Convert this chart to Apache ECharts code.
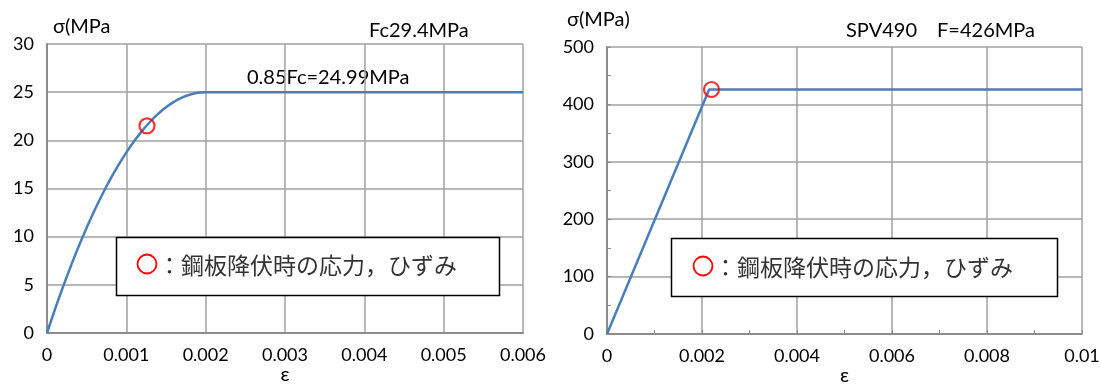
<!DOCTYPE html>
<html><head><meta charset="utf-8">
<script src="https://cdn.jsdelivr.net/npm/echarts@6/dist/echarts.min.js"></script>
<style>html,body{margin:0;padding:0;background:#fff}#c{width:1101px;height:385px}</style>
</head><body><div id="c"></div>
<script>
// Left chart: concrete Fc29.4MPa
const concreteStrain = [0,0.0001,0.0002,0.0003,0.0004,0.0005,0.0006,0.0007,0.0008,0.0009,0.001,0.0011,0.0012,0.0013,0.0014,0.0015,0.0016,0.0017,0.0018,0.0019,0.002,0.006];
const concreteStress = [0,2.44,4.75,6.93,9.00,10.93,12.74,14.43,15.99,17.43,18.74,19.93,20.99,21.93,22.74,23.43,23.99,24.43,24.74,24.93,24.99,24.99];
const concreteYieldPoint = [0.00126, 21.5];
// Right chart: steel SPV490
const steelStrain = [0, 0.00215, 0.01];
const steelStress = [0, 426, 426];
const steelYieldPoint = [0.0022, 426];
const leftTitle = 'Fc29.4MPa';
const leftNote = '0.85Fc=24.99MPa';
const rightTitle = 'SPV490\u3000F=426MPa';
const legendText = '\uff1a鋼板降伏時の応力，ひずみ';

const FONT = 'Lato, "Open Sans", sans-serif';
const JP = '"Noto Sans CJK JP", sans-serif';
const lineColor = '#4a7ebb';
const gridCol = '#a0a0a0';
const axisCol = '#8c8c8c';
const zip = (a,b)=>a.map((v,i)=>[v,b[i]]);

const chart = echarts.init(document.getElementById('c'));
const axisLabel = (fmt)=>({color:'#000', fontSize:18, fontFamily:FONT, margin:13, formatter:fmt});
const nameStyle = {fontSize:20, fontFamily:FONT, color:'#000', verticalAlign:'middle'};
chart.setOption({
  animation:false,
  grid:[
    {left:47, top:44, width:476, height:289, outerBoundsMode:'none', containLabel:false},
    {left:607, top:47, width:475, height:287, outerBoundsMode:'none', containLabel:false}
  ],
  xAxis:[
    {gridIndex:0, type:'value', min:0, max:0.006, interval:0.001,
     name:'ε', nameLocation:'middle', nameGap:42, nameMoveOverlap:false, nameTextStyle:nameStyle,
     axisLine:{lineStyle:{color:axisCol, width:2}}, axisTick:{show:false},
     axisLabel:axisLabel(v=>String(+v.toFixed(4))),
     splitLine:{show:true, lineStyle:{color:gridCol, width:1.5}}},
    {gridIndex:1, type:'value', min:0, max:0.01, interval:0.002,
     name:'ε', nameLocation:'middle', nameGap:42, nameMoveOverlap:false, nameTextStyle:nameStyle,
     axisLine:{lineStyle:{color:axisCol, width:2}}, axisTick:{show:true, inside:true, length:4, lineStyle:{color:axisCol}},
     minorTick:{show:true, splitNumber:2, length:4, lineStyle:{color:axisCol}},
     axisLabel:axisLabel(v=>String(+v.toFixed(4))),
     splitLine:{show:true, lineStyle:{color:gridCol, width:1.5}}}
  ],
  yAxis:[
    {gridIndex:0, type:'value', min:0, max:30, interval:5,
     axisLine:{show:true, lineStyle:{color:axisCol, width:2}}, axisTick:{show:false},
     axisLabel:axisLabel(v=>v),
     splitLine:{show:true, lineStyle:{color:gridCol, width:1.5}}},
    {gridIndex:1, type:'value', min:0, max:500, interval:100,
     axisLine:{show:true, lineStyle:{color:axisCol, width:2}}, axisTick:{show:true, inside:true, length:4, lineStyle:{color:axisCol}},
     minorTick:{show:true, splitNumber:2, length:4, lineStyle:{color:axisCol}},
     axisLabel:axisLabel(v=>v),
     splitLine:{show:true, lineStyle:{color:gridCol, width:1.5}}}
  ],
  series:[
    {type:'line', xAxisIndex:0, yAxisIndex:0, data:zip(concreteStrain, concreteStress), smooth:true,
     showSymbol:false, lineStyle:{color:lineColor, width:2.5}},
    {type:'scatter', xAxisIndex:0, yAxisIndex:0, data:[concreteYieldPoint], symbol:'circle', symbolSize:15,
     itemStyle:{color:'transparent', borderColor:'#ff0000', borderWidth:2.2}, z:5},
    {type:'line', xAxisIndex:1, yAxisIndex:1, data:zip(steelStrain, steelStress),
     showSymbol:false, lineStyle:{color:lineColor, width:2.5}},
    {type:'scatter', xAxisIndex:1, yAxisIndex:1, data:[steelYieldPoint], symbol:'circle', symbolSize:15,
     itemStyle:{color:'transparent', borderColor:'#ff0000', borderWidth:2.2}, z:5}
  ],
  graphic:[
    {type:'text', x:53, y:27, style:{text:'σ(MPa', font:'20px '+FONT, fill:'#000', verticalAlign:'middle'}},
    {type:'text', x:369, y:31, style:{text:leftTitle, font:'20px '+FONT, fill:'#000', verticalAlign:'middle'}},
    {type:'text', x:247, y:78, style:{text:leftNote, font:'20px '+FONT, fill:'#000', verticalAlign:'middle'}},
    {type:'text', x:567, y:20, style:{text:'σ(MPa)', font:'20px '+FONT, fill:'#000', verticalAlign:'middle'}},
    {type:'text', x:846, y:31, style:{text:rightTitle, font:'20px '+FONT, fill:'#000', verticalAlign:'middle'}},
    {type:'rect', shape:{x:116.5, y:237.5, width:383, height:58}, style:{fill:'#fff', stroke:'#000', lineWidth:1.5}, z:10},
    {type:'circle', shape:{cx:147, cy:264, r:9.5}, style:{fill:'none', stroke:'#ff0000', lineWidth:1.8}, z:11},
    {type:'text', x:158, y:265, style:{text:legendText, font:'23px '+JP, fill:'#333', verticalAlign:'middle'}, z:11},
    {type:'rect', shape:{x:671.5, y:238.5, width:386, height:58}, style:{fill:'#fff', stroke:'#000', lineWidth:1.5}, z:10},
    {type:'circle', shape:{cx:703, cy:266, r:9.5}, style:{fill:'none', stroke:'#ff0000', lineWidth:1.8}, z:11},
    {type:'text', x:714, y:267, style:{text:legendText, font:'23px '+JP, fill:'#333', verticalAlign:'middle'}, z:11}
  ]
});
</script></body></html>
